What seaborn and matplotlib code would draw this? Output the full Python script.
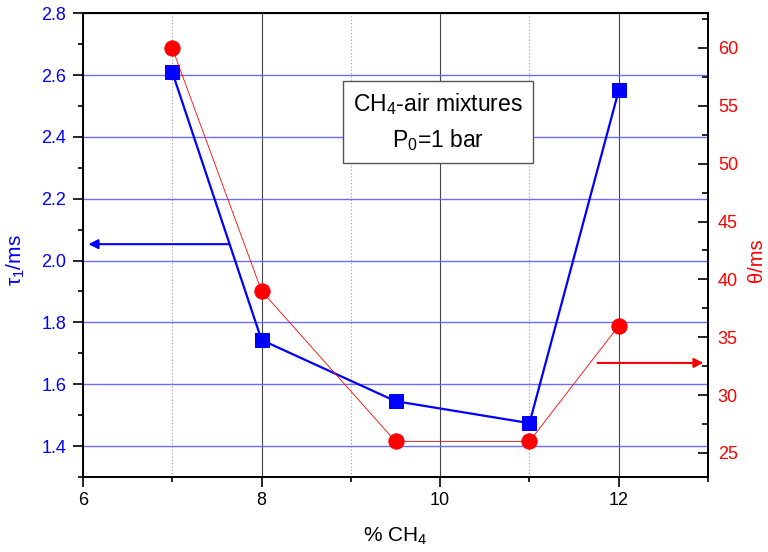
import matplotlib
matplotlib.use("Agg")
import matplotlib.pyplot as plt
import seaborn as sns
import pandas as pd
from matplotlib.ticker import MultipleLocator

sns.set_theme(style="white")
plt.rcParams['font.family'] = ['Liberation Sans', 'DejaVu Sans']
plt.rcParams['mathtext.fontset'] = 'custom'
plt.rcParams['mathtext.rm'] = 'Liberation Sans'
plt.rcParams['mathtext.it'] = 'Liberation Sans'

ch4 = [7, 8, 9.5, 11, 12]
tau1 = [2.61, 1.743, 1.545, 1.474, 2.551]
theta = [60, 39, 26, 26, 36]

df = pd.DataFrame({"ch4": ch4, "tau1": tau1, "theta": theta})

fig = plt.figure(figsize=(7.68, 5.52), dpi=100)
ax1 = fig.add_axes([0.108, 0.136, 0.814, 0.840])
ax2 = ax1.twinx()

ax1.set_xlim(6, 13)
ax1.set_ylim(1.3, 2.8)
ax2.set_ylim(22.93, 63.0)

ax1.xaxis.set_major_locator(MultipleLocator(2))
ax1.xaxis.set_minor_locator(MultipleLocator(1))
ax1.yaxis.set_major_locator(MultipleLocator(0.2))
ax1.yaxis.set_minor_locator(MultipleLocator(0.1))
ax2.yaxis.set_major_locator(MultipleLocator(5))
ax2.yaxis.set_minor_locator(MultipleLocator(2.5))

ax1.grid(True, which='major', axis='x', color='#444444', lw=0.8, ls='-')
ax1.grid(True, which='minor', axis='x', color='#999999', lw=0.8, ls=(0, (1, 2)))
ax1.grid(True, which='major', axis='y', color='#6b6bff', lw=1.0, ls='-')
ax1.set_axisbelow(True)

sns.lineplot(data=df, x="ch4", y="tau1", ax=ax1, color='#0000ff', lw=1.6,
             marker='s', markersize=10, markeredgecolor='#0000ff', zorder=3)
sns.lineplot(data=df, x="ch4", y="theta", ax=ax2, color='#ff0000', lw=0.6,
             marker='o', markersize=11, markeredgecolor='#ff0000', zorder=3)

for ax in (ax1, ax2):
    for s in ax.spines.values():
        s.set_color('black')
        s.set_linewidth(1.3)

ax1.tick_params(axis='both', which='both', direction='out', colors='black',
                left=True, bottom=True, top=False, right=False)
ax1.tick_params(axis='both', which='major', length=7, width=1.2, labelsize=13)
ax1.tick_params(axis='both', which='minor', length=3.5, width=1.2)
ax1.tick_params(axis='y', which='both', labelcolor='#0000ff', pad=5)
ax1.tick_params(axis='x', which='both', labelcolor='black', pad=4)
ax2.tick_params(axis='y', which='both', direction='in', right=True, left=False,
                colors='black', labelcolor='#ff0000', labelsize=13, pad=7)
ax2.tick_params(axis='y', which='major', length=7, width=1.2)
ax2.tick_params(axis='y', which='minor', length=4.5, width=1.2)
ax2.grid(False)

ax1.set_yticks([1.4, 1.6, 1.8, 2.0, 2.2, 2.4, 2.6, 2.8])
ax1.set_yticklabels(['1.4', '1.6', '1.8', '2.0', '2.2', '2.4', '2.6', '2.8'])
ax1.set_xticks([6, 8, 10, 12])

ax1.set_xlabel("% CH$_4$", fontsize=15, color='black', labelpad=12)
ax1.set_ylabel(r"$\tau_1$/ms", fontsize=15, color='#0000ff')
ax2.set_ylabel("θ/ms", fontsize=14.5, color='#ff0000')
ax1.yaxis.set_label_coords(-0.090, 0.468)
ax2.yaxis.set_label_coords(1.062, 0.468)

ax1.annotate("", xy=(6.03, 2.053), xytext=(7.67, 2.053),
             arrowprops=dict(arrowstyle='-|>', color='#0000ff', lw=1.5,
                             mutation_scale=14), zorder=4)
ax2.annotate("", xy=(12.98, 32.78), xytext=(11.73, 32.78),
             arrowprops=dict(arrowstyle='-|>', color='#ff0000', lw=1.5,
                             mutation_scale=14), zorder=4)

ax1.text(0.568, 0.765, "CH$_4$-air mixtures\nP$_0$=1 bar", transform=ax1.transAxes,
         ha='center', va='center', fontsize=16.5, color='black', linespacing=1.5,
         zorder=5,
         bbox=dict(boxstyle='square,pad=0.45', facecolor='white', edgecolor='#555555', lw=1.0))

fig.savefig("out.png", dpi=100)
